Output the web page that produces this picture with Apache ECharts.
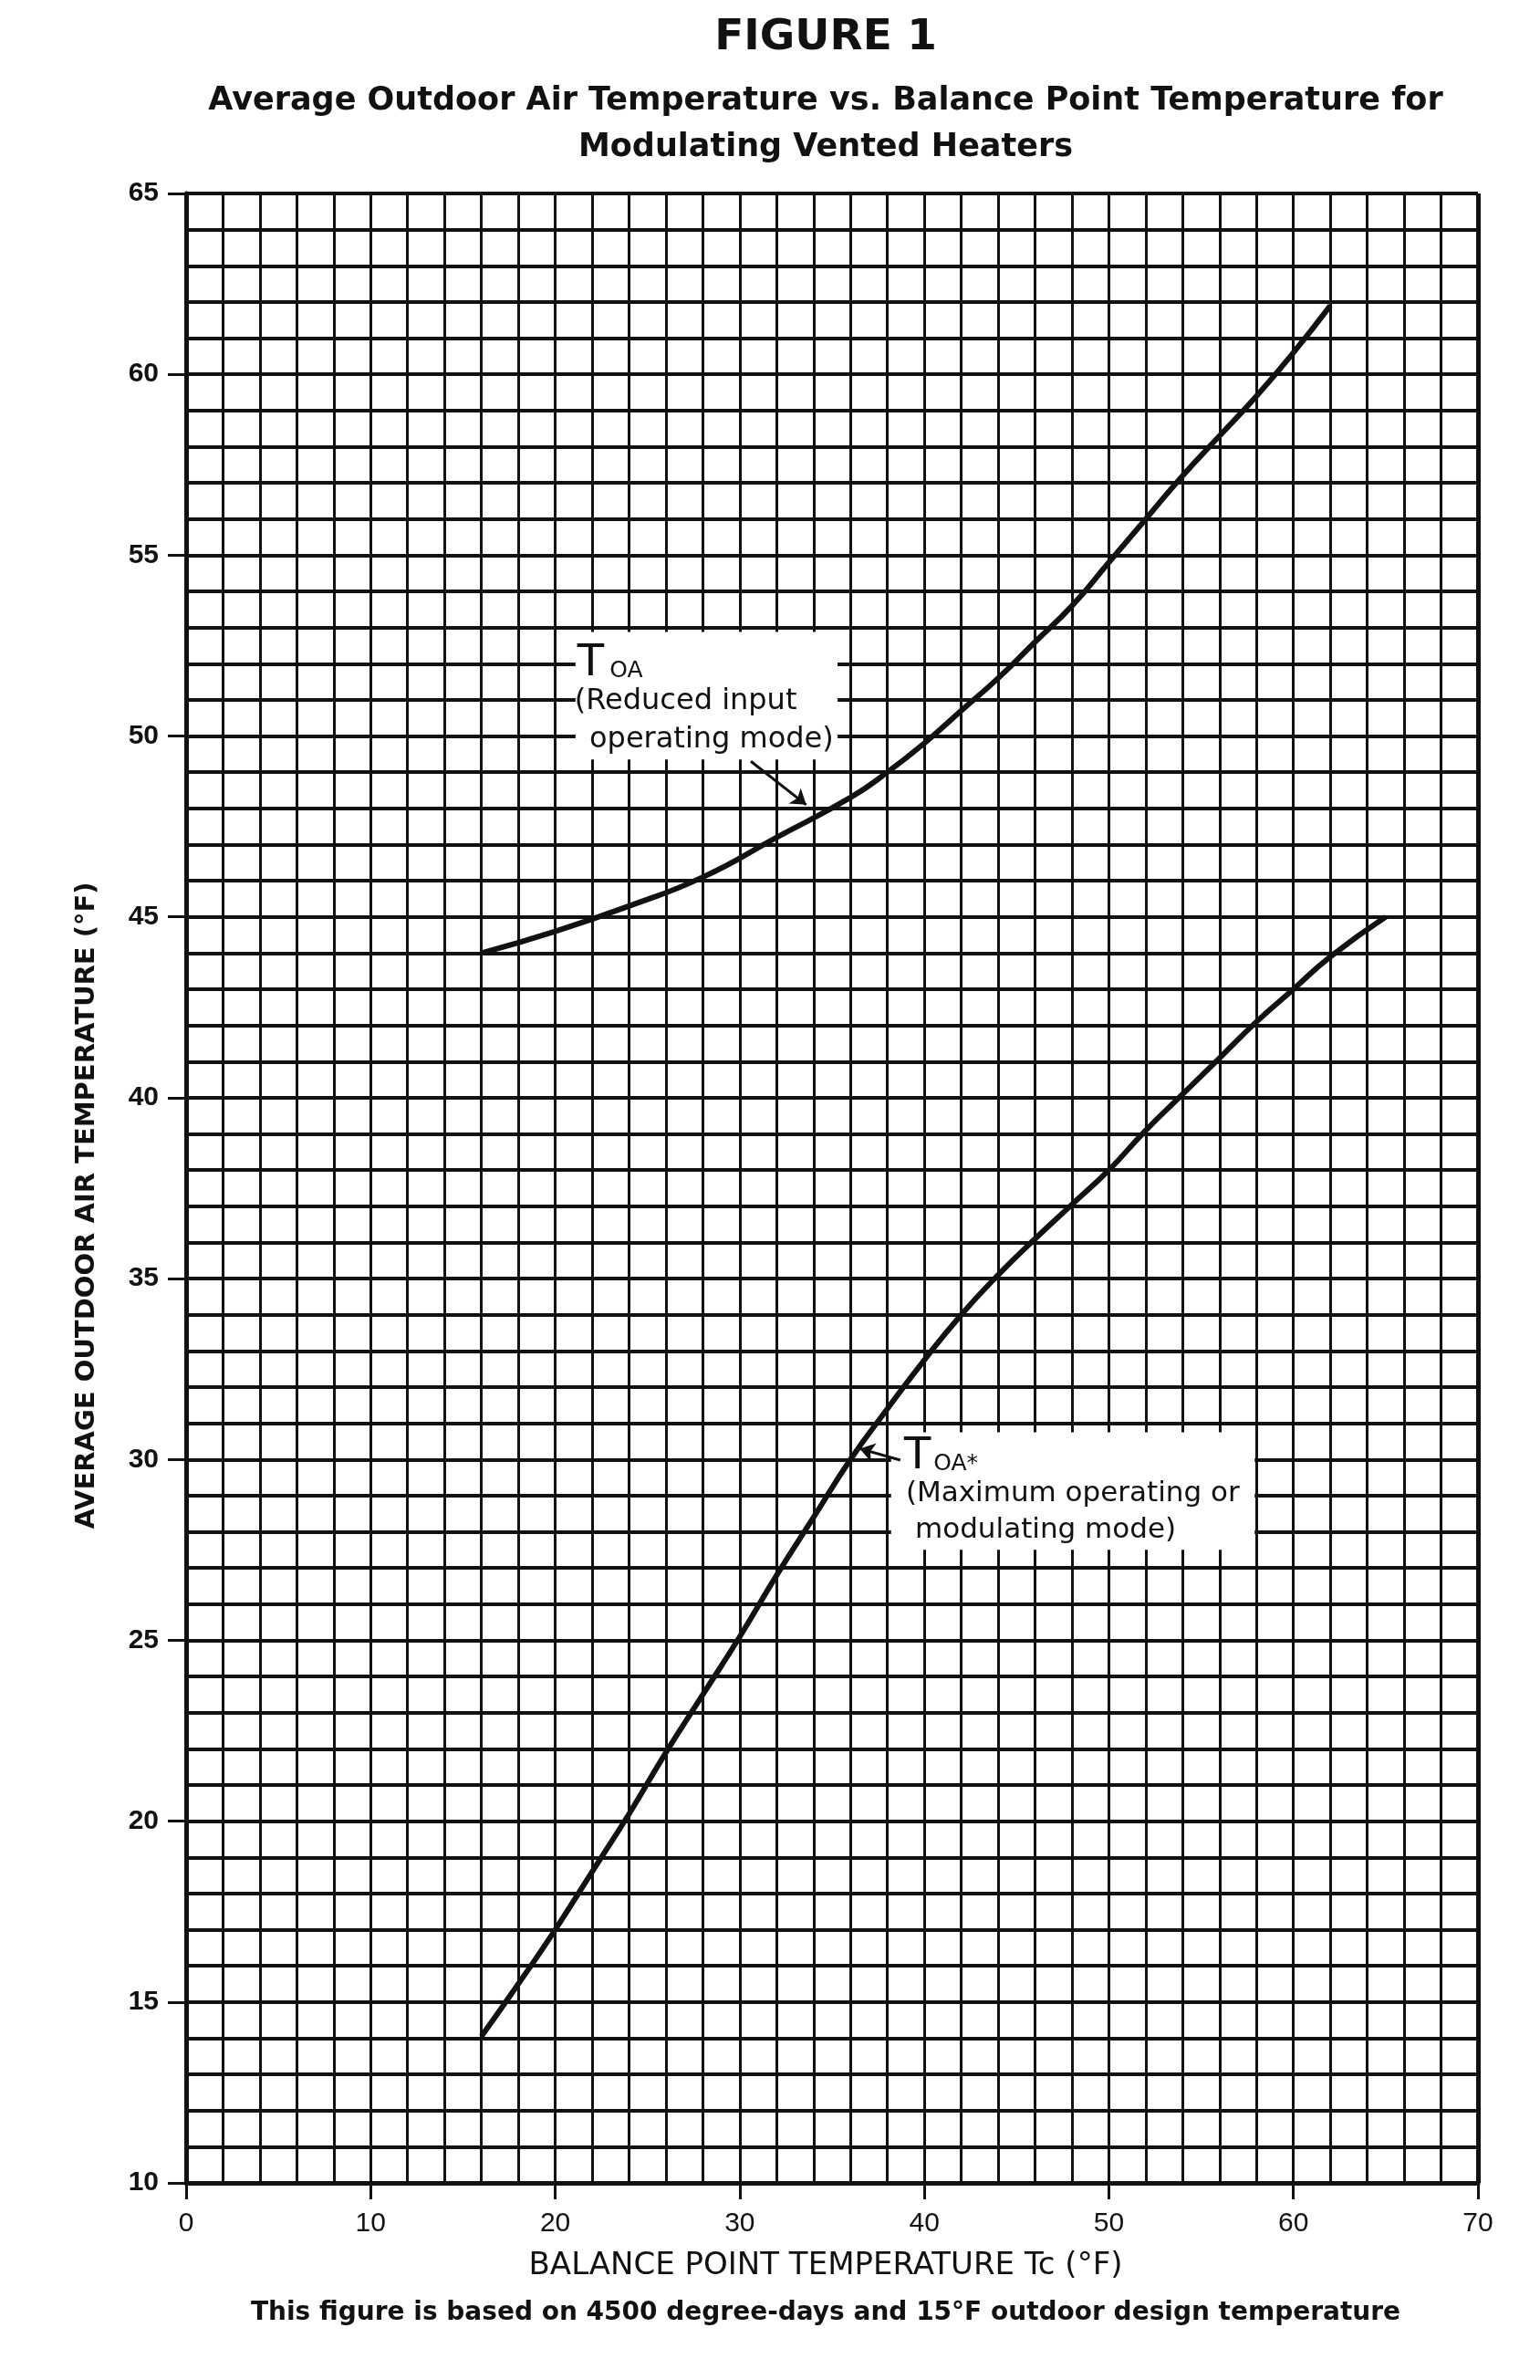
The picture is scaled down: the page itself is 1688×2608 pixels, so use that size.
<!DOCTYPE html>
<html>
<head>
<meta charset="utf-8">
<title>Figure 1</title>
<script src="https://cdn.jsdelivr.net/npm/echarts@6/dist/echarts.min.js"></script>
<style>
    html, body { margin: 0; padding: 0; background: #fff; }
    #main { width: 1688px; height: 2608px; }
</style>
</head>
<body>
<div id="main"></div>
<script>
// x axis: balance point temperature Tc (°F)
var xTicks = [0, 10, 20, 30, 40, 50, 60, 70];
// y axis: average outdoor air temperature (°F)
var yTicks = [10, 15, 20, 25, 30, 35, 40, 45, 50, 55, 60, 65];

// TOA, reduced input operating mode (upper curve)
var reducedX = [16, 20, 24, 28, 32, 36, 38, 40, 42, 44, 46, 48, 50, 52, 54, 56, 58, 60, 62];
var reducedY = [44.0, 44.6, 45.3, 46.1, 47.2, 48.3, 49.0, 49.8, 50.7, 51.6, 52.6, 53.6, 54.8, 56.0, 57.2, 58.3, 59.4, 60.6, 61.9];

// TOA*, maximum operating or modulating mode (lower curve)
var modX = [16, 18, 20, 22, 24, 26, 28, 30, 32, 34, 36, 38, 40, 42, 44, 46, 48, 50, 52, 54, 56, 58, 60, 62, 65];
var modY = [14.05, 15.5, 17.0, 18.6, 20.2, 21.9, 23.5, 25.1, 26.8, 28.4, 30.0, 31.4, 32.75, 34.0, 35.1, 36.1, 37.05, 38.0, 39.1, 40.1, 41.1, 42.1, 43.0, 43.9, 45.0];

function pairs(xs, ys) {
    var out = [];
    for (var i = 0; i < xs.length; i++) {
        out.push([xs[i], ys[i]]);
    }
    return out;
}

var ink = '#111';
var sans = '"DejaVu Sans", sans-serif';
var lib = '"Liberation Sans", Arial, sans-serif';

var chart = echarts.init(document.getElementById('main'), null, {renderer: 'canvas'});

chart.setOption({
    backgroundColor: '#fff',
    animation: false,
    grid: {left: 204, right: 68, top: 212, bottom: 216, containLabel: false},
    xAxis: {
        type: 'value',
        min: xTicks[0],
        max: xTicks[xTicks.length - 1],
        interval: xTicks[1] - xTicks[0],
        axisLine: {show: true, lineStyle: {color: ink, width: 5}},
        axisTick: {show: true, inside: false, length: 18, lineStyle: {color: ink, width: 3}},
        axisLabel: {margin: 30, color: ink, fontSize: 30, fontFamily: lib},
        splitLine: {show: true, lineStyle: {color: ink, width: 3}},
        minorTick: {show: false, splitNumber: 5},
        minorSplitLine: {show: true, lineStyle: {color: ink, width: 3}}
    },
    yAxis: {
        type: 'value',
        min: yTicks[0],
        max: yTicks[yTicks.length - 1],
        interval: yTicks[1] - yTicks[0],
        axisLine: {show: true, lineStyle: {color: ink, width: 5}},
        axisTick: {show: true, inside: false, length: 20, lineStyle: {color: ink, width: 3}},
        axisLabel: {margin: 30, color: ink, fontSize: 30, fontWeight: 'bold', fontFamily: lib},
        splitLine: {show: true, lineStyle: {color: ink, width: 4}},
        minorTick: {show: false, splitNumber: 5},
        minorSplitLine: {show: true, lineStyle: {color: ink, width: 4}}
    },
    series: [
        {
            name: 'TOA reduced input',
            type: 'line',
            z: 4,
            data: pairs(reducedX, reducedY),
            smooth: true,
            symbol: 'none',
            lineStyle: {color: ink, width: 6},
            // white label boxes that blank the grid behind the notes
            markArea: {
                silent: true,
                itemStyle: {color: '#fff'},
                label: {show: false},
                data: [
                    [{coord: [21.1, 52.88]}, {coord: [35.3, 49.35]}],
                    [{coord: [38.2, 30.75]}, {coord: [57.9, 27.5]}]
                ]
            },
            // pointer arrows from the notes to the curves
            markLine: {
                silent: true,
                symbol: ['none', 'arrow'],
                symbolSize: 16,
                label: {show: false},
                lineStyle: {color: ink, width: 3, type: 'solid'},
                data: [
                    [{coord: [30.6, 49.3]}, {coord: [33.6, 48.1]}],
                    [{coord: [38.7, 29.98]}, {coord: [36.5, 30.3]}]
                ]
            }
        },
        {
            name: 'TOA* modulating',
            type: 'line',
            z: 4,
            data: pairs(modX, modY),
            smooth: true,
            symbol: 'none',
            lineStyle: {color: ink, width: 6},
            // heavier frame edges (top and right) like the printed grid
            markLine: {
                silent: true,
                symbol: 'none',
                label: {show: false},
                lineStyle: {color: ink, type: 'solid'},
                data: [
                    [{coord: [0, 65], lineStyle: {width: 7}}, {coord: [70.4, 65]}],
                    [{coord: [70, 10], lineStyle: {width: 5}}, {coord: [70, 65]}],
                    [{coord: [70, 10], lineStyle: {width: 5}}, {coord: [71.1, 10]}]
                ]
            }
        }
    ]
});

// note text, anchored in data coordinates
function px(x, y) {
    return chart.convertToPixel({gridIndex: 0}, [x, y]);
}
function note(x, y, text, size) {
    var p = px(x, y);
    return {
        type: 'text', x: p[0], y: p[1], z: 10,
        style: {text: text, fill: ink, font: size + 'px ' + sans, textAlign: 'left', textVerticalAlign: 'middle'}
    };
}
function centered(x, y, text, font, rot) {
    return {
        type: 'text', x: x, y: y, z: 10, rotation: rot || 0,
        style: {text: text, fill: ink, font: font, textAlign: 'center', textVerticalAlign: 'middle'}
    };
}

chart.setOption({
    graphic: [
        centered(905, 42, 'FIGURE 1', 'bold 47px ' + sans),
        centered(905, 111, 'Average Outdoor Air Temperature vs. Balance Point Temperature for', 'bold 35px ' + sans),
        centered(905, 162, 'Modulating Vented Heaters', 'bold 35px ' + sans),
        centered(95, 1321, 'AVERAGE OUTDOOR AIR TEMPERATURE (°F)', 'bold 29px ' + sans, Math.PI / 2),
        centered(905, 2483, 'BALANCE POINT TEMPERATURE Tc (°F)', '34px ' + sans),
        centered(905, 2535, 'This figure is based on 4500 degree-days and 15°F outdoor design temperature', 'bold 28px ' + sans),

        note(21.2, 52.0, 'T', 48),
        note(22.95, 51.8, 'OA', 25),
        note(21.05, 50.95, '(Reduced input', 32),
        note(21.85, 49.9, 'operating mode)', 32),

        note(38.9, 30.06, 'T', 48),
        note(40.5, 29.86, 'OA*', 25),
        note(39.0, 29.05, '(Maximum operating or', 31),
        note(39.5, 28.05, 'modulating mode)', 31)
    ]
});
</script>
</body>
</html>
